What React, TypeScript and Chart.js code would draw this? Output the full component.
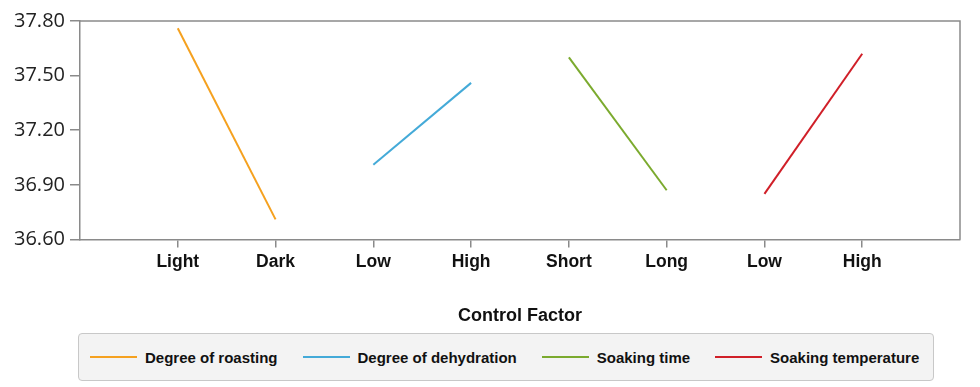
import React, { useEffect, useRef } from "react";
import { Chart, registerables } from "chart.js";

Chart.register(...registerables);

const categories = ["", "Light", "Dark", "Low", "High", "Short", "Long", "Low", "High", ""];
const roasting = [null, 37.76, 36.71, null, null, null, null, null, null, null];
const dehydration = [null, null, null, 37.01, 37.46, null, null, null, null, null];
const soakingTime = [null, null, null, null, null, 37.6, 36.87, null, null, null];
const soakingTemp = [null, null, null, null, null, null, null, 36.85, 37.62, null];
const seriesNames = ["Degree of roasting", "Degree of dehydration", "Soaking time", "Soaking temperature"];
const seriesColors = ["#f5a11f", "#44aad8", "#7baa2e", "#d01f28"];
const yTicks = { min: 36.6, max: 37.8, step: 0.3 };
const xTitle = "Control Factor";

const AXIS = "#8a8a8a";

const framePlugin = {
  id: "frame",
  afterDraw(chart: any) {
    const { ctx, chartArea } = chart;
    ctx.save();
    ctx.strokeStyle = AXIS;
    ctx.lineWidth = 1.5;
    ctx.beginPath();
    ctx.moveTo(chartArea.left, chartArea.top);
    ctx.lineTo(chartArea.right, chartArea.top);
    ctx.lineTo(chartArea.right, chartArea.bottom);
    ctx.stroke();
    ctx.restore();
  },
};

export default function App() {
  const ref = useRef<HTMLCanvasElement | null>(null);

  useEffect(() => {
    if (!ref.current) return;
    const data = [roasting, dehydration, soakingTime, soakingTemp];
    const chart = new Chart(ref.current, {
      type: "line",
      data: {
        labels: categories,
        datasets: data.map((d, i) => ({
          label: seriesNames[i],
          data: d,
          borderColor: seriesColors[i],
          backgroundColor: seriesColors[i],
          borderWidth: 2,
          pointRadius: 0,
          spanGaps: false,
          tension: 0,
        })),
      },
      options: {
        animation: false,
        responsive: false,
        maintainAspectRatio: false,
        layout: { padding: { top: 21, right: 20, left: 9, bottom: 3 } },
        plugins: {
          legend: { display: false },
          tooltip: { enabled: false },
        },
        scales: {
          x: {
            type: "category",
            offset: false,
            border: { display: true, color: AXIS, width: 1.5 },
            grid: {
              display: true,
              drawOnChartArea: false,
              drawTicks: true,
              tickLength: 8,
              lineWidth: 1.5,
              color: (ctx: any) => (ctx.tick && ctx.tick.label ? AXIS : "rgba(0,0,0,0)"),
            },
            ticks: {
              autoSkip: false,
              maxRotation: 0,
              padding: 4,
              color: "#111",
              font: { family: "'Liberation Sans', Arial, sans-serif", size: 17.5, weight: "bold" },
            },
            title: {
              display: true,
              text: xTitle,
              color: "#111",
              padding: { top: 29, bottom: 0 },
              font: { family: "'Liberation Sans', Arial, sans-serif", size: 18, weight: "bold" },
            },
          },
          y: {
            min: yTicks.min,
            max: yTicks.max,
            border: { display: true, color: AXIS, width: 1.5 },
            grid: {
              display: true,
              drawOnChartArea: false,
              drawTicks: true,
              tickLength: 10,
              lineWidth: 1.5,
              color: AXIS,
            },
            ticks: {
              stepSize: yTicks.step,
              padding: 5,
              color: "#222",
              font: { family: "'Open Sans', sans-serif", size: 20 },
              callback: (v: any) => Number(v).toFixed(2),
            },
          },
        },
      },
      plugins: [framePlugin],
    } as any);
    return () => chart.destroy();
  }, []);

  return (
    <div style={{ position: "absolute", left: 0, top: 0, width: 980, height: 387, background: "#fff" }}>
      <canvas ref={ref} width={980} height={330} style={{ display: "block", width: 980, height: 330 }} />
      <div
        style={{
          position: "absolute",
          left: 78,
          top: 333,
          width: 856,
          height: 48,
          boxSizing: "border-box",
          background: "#f3f3f3",
          border: "1px solid #c8c8c8",
          borderRadius: 4,
          display: "flex",
          alignItems: "center",
          paddingLeft: 11,
          gap: 25,
          fontFamily: "'Liberation Sans', Arial, sans-serif",
          fontWeight: "bold",
          fontSize: 15,
          color: "#111",
        }}
      >
        {seriesNames.map((n, i) => (
          <div key={n} style={{ display: "flex", alignItems: "center" }}>
            <span style={{ display: "inline-block", width: 47, height: 2, background: seriesColors[i], marginRight: 8 }} />
            <span>{n}</span>
          </div>
        ))}
      </div>
    </div>
  );
}
